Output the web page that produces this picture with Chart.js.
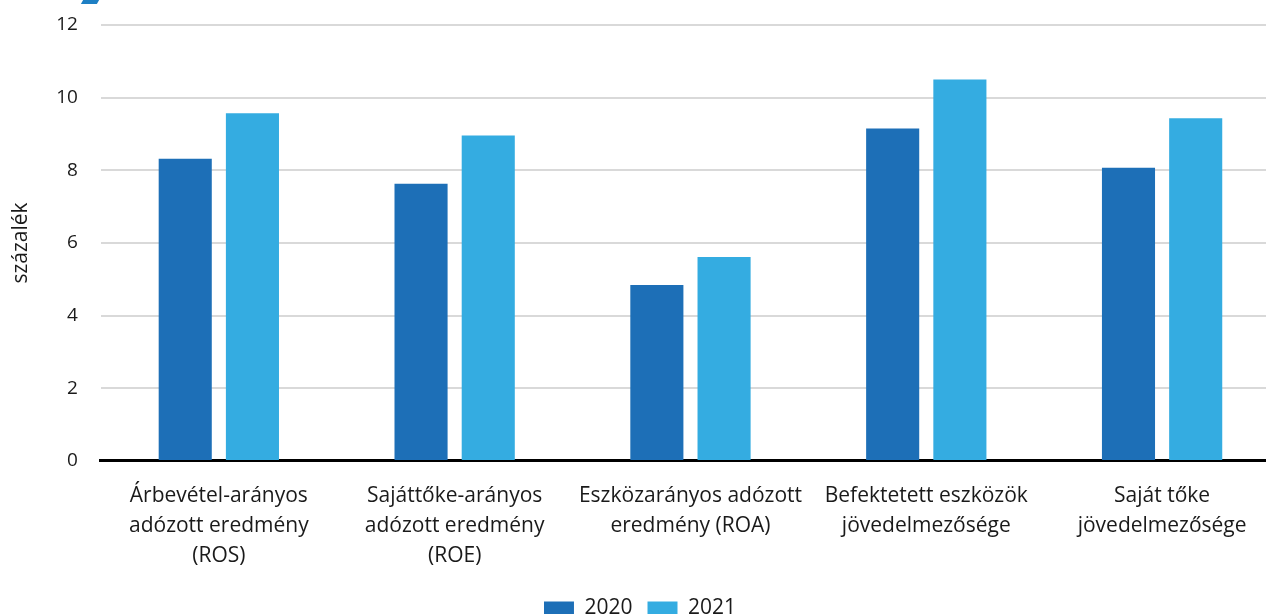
<!DOCTYPE html>
<html>
<head>
<meta charset="utf-8">
<script src="https://cdn.jsdelivr.net/npm/chart.js@4.4.1/dist/chart.umd.min.js"></script>
<style>
  html, body { margin: 0; padding: 0; background: #fff; overflow: hidden; }
  #wrap { position: relative; width: 1280px; height: 614px; }
  #corner { position: absolute; left: 82px; top: 0; width: 16px; height: 4px; background: #1d7fc4; transform: skewX(-30deg); }
</style>
</head>
<body>
<div id="wrap">
  <canvas id="chart" width="1280" height="614"></canvas>
  <div id="corner"></div>
</div>
<script>
// categories (multi-line labels)
const categories = [
  ['Árbevétel-arányos', 'adózott eredmény', '(ROS)'],
  ['Sajáttőke-arányos', 'adózott eredmény', '(ROE)'],
  ['Eszközarányos adózott', 'eredmény (ROA)'],
  ['Befektetett eszközök', 'jövedelmezősége'],
  ['Saját tőke', 'jövedelmezősége'],
];
const series_names = ['2020', '2021'];
const values_2020 = [8.32, 7.63, 4.84, 9.15, 8.07];
const values_2021 = [9.57, 8.96, 5.61, 10.5, 9.43];
const y_ticks = [0, 2, 4, 6, 8, 10, 12];

const font_family = "'Open Sans', 'Noto Sans', sans-serif";

new Chart('chart', {
  type: 'bar',
  data: {
    labels: categories,
    datasets: [
      {
        label: series_names[0],
        data: values_2020,
        backgroundColor: '#1d6fb7',
        categoryPercentage: 0.57,
        barPercentage: 0.79,
      },
      {
        label: series_names[1],
        data: values_2021,
        backgroundColor: '#34ace1',
        categoryPercentage: 0.57,
        barPercentage: 0.79,
      },
    ],
  },
  options: {
    responsive: false,
    animation: false,
    layout: { padding: { top: 25, left: 0, right: 0, bottom: -15 } },
    plugins: {
      tooltip: { enabled: false },
      legend: {
        position: 'bottom',
        labels: {
          boxWidth: 30,
          boxHeight: 14,
          padding: 15,
          color: '#1a1a1a',
          font: { family: font_family, size: 21 },
        },
      },
    },
    scales: {
      x: {
        grid: { display: false },
        border: { color: '#000', width: 3 },
        ticks: {
          color: '#1a1a1a',
          maxRotation: 0,
          autoSkip: false,
          padding: 12,
          font: { family: font_family, size: 21, lineHeight: 1.43 },
        },
      },
      y: {
        min: 0,
        max: 12,
        afterBuildTicks: (axis) => { axis.ticks = y_ticks.map((v) => ({ value: v })); },
        // tick padding would otherwise push the plot area down
        afterFit: (axis) => { axis.paddingTop = 0; axis.paddingBottom = 0; },
        grid: { color: '#d9d9d9', lineWidth: 2, drawTicks: false },
        border: { display: false },
        ticks: {
          color: '#1a1a1a',
          padding: 23,
          font: { family: font_family, size: 19 },
        },
        title: {
          display: true,
          text: 'százalék',
          color: '#1a1a1a',
          padding: { top: 8, bottom: 0 },
          font: { family: font_family, size: 21 },
        },
      },
    },
  },
});
</script>
</body>
</html>
